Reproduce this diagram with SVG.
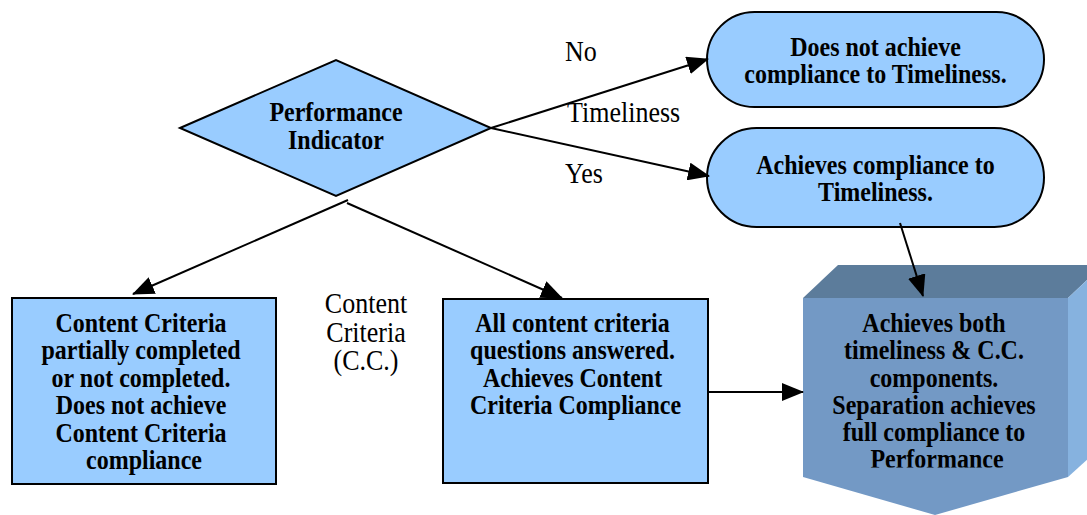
<svg xmlns="http://www.w3.org/2000/svg" width="1087" height="515" viewBox="0 0 1087 515">
  <style>
    .shape { fill: #99CCFF; stroke: #000; stroke-width: 2; }
    .bt { font-family: "Liberation Serif", "Times New Roman", serif; font-weight: bold; font-size: 24px; fill: #000; text-anchor: middle; }
    .rt { font-family: "Liberation Serif", "Times New Roman", serif; font-size: 26px; fill: #000; }
    .conn { stroke: #000; stroke-width: 2; fill: none; marker-end: url(#arrow); }
  </style>
  <defs>
    <marker id="arrow" markerUnits="userSpaceOnUse" markerWidth="22" markerHeight="18" refX="21" refY="9" orient="auto">
      <path d="M0,0 L22,9 L0,18 z" fill="#000"/>
    </marker>
    <clipPath id="clipTop"><rect x="700" y="0" width="360" height="85"/></clipPath>
    <clipPath id="clipBox"><rect x="800" y="290" width="287" height="177.5"/></clipPath>
  </defs>
  <rect width="1087" height="515" fill="#fff"/>

  <g id="performance-indicator">
    <polygon class="shape" points="180,128 336,60 491,128 336,196"/>
    <text class="bt" transform="translate(336,121) scale(1,1.1)"><tspan x="0" y="0">Performance</tspan><tspan x="0" dy="25.5">Indicator</tspan></text>
  </g>

  <g id="no-timeliness">
    <rect class="shape" x="707" y="12" width="337" height="95" rx="47.5" ry="47.5"/>
    <g clip-path="url(#clipTop)">
      <text class="bt" transform="translate(875.5,55.5) scale(1,1.1)"><tspan x="0" y="0">Does not achieve</tspan><tspan x="0" dy="25">compliance to Timeliness.</tspan></text>
    </g>
  </g>

  <g id="yes-timeliness">
    <rect class="shape" x="707" y="128" width="337" height="99" rx="49.5" ry="49.5"/>
    <text class="bt" transform="translate(875.5,173.5) scale(1,1.1)"><tspan x="0" y="0">Achieves compliance to</tspan><tspan x="0" dy="25">Timeliness.</tspan></text>
  </g>

  <g id="cc-not-complete">
    <rect class="shape" x="12" y="298" width="264" height="186"/>
    <text class="bt" transform="translate(144,332) scale(1,1.1)">
      <tspan x="0" y="0">Content Criteria</tspan>
      <tspan x="0" dy="25">partially completed</tspan>
      <tspan x="0" dy="25">or not completed.</tspan>
      <tspan x="0" dy="25">Does not achieve</tspan>
      <tspan x="0" dy="25">Content Criteria</tspan>
      <tspan x="0" dy="25">compliance</tspan>
    </text>
  </g>

  <g id="cc-complete">
    <rect class="shape" x="443" y="299" width="265" height="184"/>
    <text class="bt" transform="translate(575.5,332) scale(1,1.1)">
      <tspan x="0" y="0">All content criteria</tspan>
      <tspan x="0" dy="25">questions answered.</tspan>
      <tspan x="0" dy="25">Achieves Content</tspan>
      <tspan x="0" dy="25">Criteria Compliance</tspan>
    </text>
  </g>

  <g id="full-compliance">
    <polygon points="803,298 838,265 1103,265 1068,298" fill="#5C7C9B"/>
    <polygon points="1068,298 1103,265 1103,445 1068,477" fill="#86B2DF"/>
    <polygon points="803,298 1068,298 1068,477 935,515 803,477" fill="#7399C5"/>
    <g clip-path="url(#clipBox)">
      <text class="bt" transform="translate(937,332) scale(1,1.1)">
        <tspan x="0" y="0">Achieves both</tspan>
        <tspan x="0" dy="24.8">timeliness &amp; C.C.</tspan>
        <tspan x="0" dy="24.8">components.</tspan>
        <tspan x="0" dy="24.8">Separation achieves</tspan>
        <tspan x="0" dy="24.8">full compliance to</tspan>
        <tspan x="0" dy="24.8">Performance</tspan>
      </text>
    </g>
  </g>

  <g id="labels">
    <text class="rt" transform="translate(565,61) scale(1,1.1)">No</text>
    <text class="rt" transform="translate(567,122) scale(1,1.1)">Timeliness</text>
    <text class="rt" transform="translate(565,183) scale(1,1.1)">Yes</text>
    <text class="rt" text-anchor="middle" transform="translate(366,313) scale(1,1.1)"><tspan x="0" y="0">Content</tspan><tspan x="0" dy="26">Criteria</tspan><tspan x="0" dy="26">(C.C.)</tspan></text>
  </g>

  <g id="connectors">
    <line class="conn" x1="491" y1="128" x2="708" y2="59"/>
    <line class="conn" x1="491" y1="128" x2="709" y2="176"/>
    <line class="conn" x1="348" y1="200" x2="133" y2="294"/>
    <line class="conn" x1="347" y1="203" x2="562" y2="298"/>
    <line class="conn" x1="708" y1="392" x2="803" y2="392"/>
    <line class="conn" x1="900" y1="223" x2="923" y2="296"/>
  </g>
</svg>
